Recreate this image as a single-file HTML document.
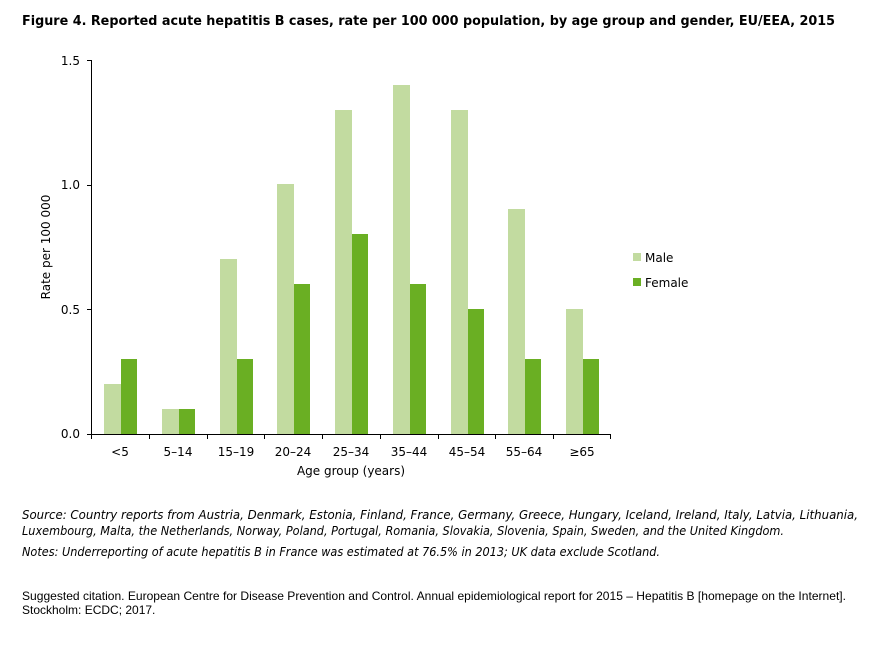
<!DOCTYPE html>
<html><head><meta charset="utf-8"><style>
body{margin:0;background:#fff;}
svg text{font-family:"DejaVu Sans","Liberation Sans",sans-serif;}
</style></head><body>
<svg width="882" height="641" xmlns="http://www.w3.org/2000/svg">
<text x="22" y="25" font-size="13.5" font-weight="bold" fill="#000" textLength="813" lengthAdjust="spacingAndGlyphs">Figure 4. Reported acute hepatitis B cases,  rate per 100 000 population, by age group and gender, EU/EEA, 2015</text>
<g font-size="12" fill="#000" text-anchor="end">
<text x="80" y="65">1.5</text><text x="80" y="189">1.0</text><text x="80" y="314">0.5</text><text x="80" y="438">0.0</text>
</g>
<g stroke="#000" stroke-width="1">
<line x1="91.5" y1="60" x2="91.5" y2="434"/>
<line x1="91" y1="434.5" x2="611" y2="434.5"/>
<line x1="87" y1="60.5" x2="91" y2="60.5"/><line x1="87" y1="185.5" x2="91" y2="185.5"/><line x1="87" y1="309.5" x2="91" y2="309.5"/><line x1="87" y1="434.5" x2="91" y2="434.5"/>
<line x1="91.5" y1="434" x2="91.5" y2="439"/><line x1="149.5" y1="434" x2="149.5" y2="439"/><line x1="207.5" y1="434" x2="207.5" y2="439"/><line x1="264.5" y1="434" x2="264.5" y2="439"/><line x1="322.5" y1="434" x2="322.5" y2="439"/><line x1="380.5" y1="434" x2="380.5" y2="439"/><line x1="438.5" y1="434" x2="438.5" y2="439"/><line x1="495.5" y1="434" x2="495.5" y2="439"/><line x1="553.5" y1="434" x2="553.5" y2="439"/><line x1="610.5" y1="434" x2="610.5" y2="439"/>
</g>
<g fill="#c2dba0">
<rect x="104" y="384" width="17" height="50"/><rect x="162" y="409" width="17" height="25"/><rect x="220" y="259" width="17" height="175"/><rect x="277" y="184" width="17" height="250"/><rect x="335" y="110" width="17" height="324"/><rect x="393" y="85" width="17" height="349"/><rect x="451" y="110" width="17" height="324"/><rect x="508" y="209" width="17" height="225"/><rect x="566" y="309" width="17" height="125"/>
</g>
<g fill="#6aaf23">
<rect x="121" y="359" width="16" height="75"/><rect x="179" y="409" width="16" height="25"/><rect x="237" y="359" width="16" height="75"/><rect x="294" y="284" width="16" height="150"/><rect x="352" y="234" width="16" height="200"/><rect x="410" y="284" width="16" height="150"/><rect x="468" y="309" width="16" height="125"/><rect x="525" y="359" width="16" height="75"/><rect x="583" y="359" width="16" height="75"/>
</g>
<g font-size="12" fill="#000" text-anchor="middle">
<text x="120" y="456">&lt;5</text><text x="178" y="456">5–14</text><text x="236" y="456">15–19</text><text x="293" y="456">20–24</text><text x="351" y="456">25–34</text><text x="409" y="456">35–44</text><text x="467" y="456">45–54</text><text x="524" y="456">55–64</text><text x="582" y="456">≥65</text>
<text x="351" y="475">Age group (years)</text>
<text transform="translate(50,247) rotate(-90)">Rate per 100 000</text>
</g>
<rect x="633" y="253" width="8" height="8" fill="#c2dba0"/>
<rect x="633" y="278" width="8" height="8" fill="#6aaf23"/>
<text x="645" y="262" font-size="12">Male</text>
<text x="645" y="287" font-size="12">Female</text>
<g font-size="12" font-style="italic" fill="#000">
<text x="22" y="519" textLength="836" lengthAdjust="spacingAndGlyphs">Source: Country reports from Austria, Denmark, Estonia, Finland, France, Germany, Greece, Hungary, Iceland, Ireland, Italy, Latvia, Lithuania,</text>
<text x="22" y="535" textLength="762" lengthAdjust="spacingAndGlyphs">Luxembourg, Malta, the Netherlands, Norway, Poland, Portugal, Romania, Slovakia, Slovenia, Spain, Sweden, and the United Kingdom.</text>
<text x="22" y="556" textLength="638" lengthAdjust="spacingAndGlyphs">Notes: Underreporting of acute hepatitis B in France was estimated at 76.5% in 2013; UK data exclude Scotland.</text>
</g>
<g font-size="12" fill="#000">
<text x="22" y="600" style="font-family:'Liberation Sans',sans-serif" textLength="824" lengthAdjust="spacingAndGlyphs">Suggested citation. European Centre for Disease Prevention and Control. Annual epidemiological report for 2015 – Hepatitis B [homepage on the Internet].</text>
<text x="22" y="614" style="font-family:'Liberation Sans',sans-serif">Stockholm: ECDC; 2017.</text>
</g>
</svg>
</body></html>
